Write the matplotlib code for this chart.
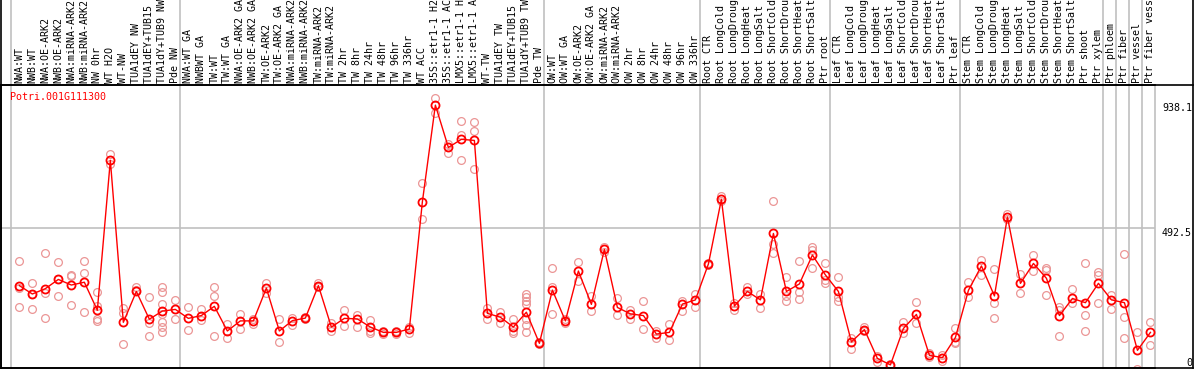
import numpy as np
import matplotlib
matplotlib.use("Agg")
import matplotlib.pyplot as plt
import matplotlib.transforms as mtransforms

# sample names, left to right
sample_names = [
    "NWA:WT", "NWB:WT", "NWA:OE-ARK2", "NWB:OE-ARK2", "NWA:miRNA-ARK2", "NWB:miRNA-ARK2",
    "NW 0hr", "WT H2O", "WT-NW", "TUA1dEY NW", "TUA1dEY+TUB15 NW", "TUA1dY+TUB9 NW", "Pde NW",
    "NWA:WT GA", "NWBWT GA", "TW:WT", "TW:WT GA", "NWA:OE-ARK2 GA", "NWB:OE-ARK2 GA",
    "TW:OE-ARK2", "TW:OE-ARK2 GA", "NWA:miRNA-ARK2 GA", "NWB:miRNA-ARK2 GA", "TW:miRNA-ARK2",
    "TW:miRNA-ARK2 GA", "TW 2hr", "TW 8hr", "TW 24hr", "TW 48hr", "TW 96hr", "TW 336hr",
    "WT ACC", "35S::etr1-1 H2O", "35S::etr1-1 ACC", "LMX5::etr1-1 H2O", "LMX5::etr1-1 ACC",
    "WT-TW", "TUA1dEY TW", "TUA1dEY+TUB15 TW", "TUA1dY+TUB9 TW", "Pde TW",
    "OW:WT", "OW:WT GA", "OW:OE-ARK2", "OW:OE-ARK2 GA", "OW:miRNA-ARK2", "OW:miRNA-ARK2 GA",
    "OW 2hr", "OW 8hr", "OW 24hr", "OW 48hr", "OW 96hr", "OW 336hr",
    "Root CTR", "Root LongCold", "Root LongDrought", "Root LongHeat", "Root LongSalt",
    "Root ShortCold", "Root ShortDrought", "Root ShortHeat", "Root ShortSalt", "Ptr root",
    "Leaf CTR", "Leaf LongCold", "Leaf LongDrought", "Leaf LongHeat", "Leaf LongSalt",
    "Leaf ShortCold", "Leaf ShortDrought", "Leaf ShortHeat", "Leaf ShortSalt", "Ptr leaf",
    "Stem CTR", "Stem LongCold", "Stem LongDrought", "Stem LongHeat", "Stem LongSalt",
    "Stem ShortCold", "Stem ShortDrought", "Stem ShortHeat", "Stem ShortSalt", "Ptr shoot",
    "Ptr xylem", "Ptr phloem", "Ptr fiber", "Ptr vessel", "Ptr fiber vessel",
]

# how many samples sit between two grey separators
group_sizes = [13, 28, 12, 10, 10, 11, 1, 1, 1, 1]

mean_expr = [
    287, 257, 276, 309, 289, 299, 199, 734, 156, 266, 167, 196, 202,
    170, 180, 213, 125, 161, 161, 278, 125, 162, 171, 287, 139, 170, 168, 139, 120,
    120, 132, 586, 931, 780, 809, 805, 188, 174, 139, 192, 81,
    271, 161, 339, 220, 416, 209, 186, 180, 114, 120, 221, 236,
    364, 595, 214, 266, 236, 473, 266, 293, 396, 325,
    266, 86, 130, 27, 4, 134, 184, 38, 30, 102,
    270, 357, 250, 532, 295, 366, 313, 180, 241, 226,
    295, 236, 226, 56, 120,
]

replicates = [
    [374, 280, 209], [296, 257, 203], [402, 259, 170], [371, 309, 249], [325, 320, 218],
    [374, 332, 193], [264, 214, 168, 161], [758, 721], [206, 190, 77], [283, 271],
    [245, 152, 106], [283, 263, 220, 184, 156, 140, 120], [236, 167],
    [209, 128], [203, 164], [281, 251, 106], [149, 99], [186, 132], [167, 149], [295, 259],
    [167, 86], [172, 146], [175, 167], [295, 281], [155, 126], [200, 144], [182, 140],
    [164, 126, 119], [126, 115], [126, 113], [138, 119], [652, 523], [955, 904], [792, 761],
    [873, 824, 734], [870, 840, 702], [206, 169], [194, 155], [167, 126, 117],
    [257, 245, 233, 221, 169, 146, 123], [84, 78],
    [349, 283, 186], [167, 152], [370, 303], [251, 195], [426, 408], [242, 181], [200, 169],
    [232, 131], [126, 99], [149, 92], [233, 197], [257, 212],
    [369, 360], [607, 590], [226, 200], [281, 257], [257, 208], [588, 434, 402],
    [316, 251, 231], [374, 263, 240], [426, 414, 349], [367, 307, 295],
    [318, 245, 233], [99, 59], [138, 124], [36, 15], [8, 0], [156, 119], [228, 152],
    [45, 31], [39, 19], [134, 87, 81],
    [299, 247], [378, 325], [345, 226, 170], [543, 523], [328, 259], [396, 339],
    [349, 343, 253], [212, 200, 108], [274, 224], [366, 181, 125],
    [337, 325, 224], [253, 202], [399, 176, 99], [122, -12], [156, 74],
]

gene_name = "Potri.001G111300"
y_ticks = [0, 492.5, 938.1]

W, H = 1194, 370
fig = plt.figure(figsize=(W / 100, H / 100), dpi=100)
plt.rcParams['font.family'] = 'DejaVu Sans Mono'
fs = 7.2

# plot area in pixels: x 1..1155, y 85..368 (from top)
ax = fig.add_axes([1 / W, (H - 368) / H, 1154 / W, 283 / H])
x = np.arange(len(mean_expr))
ax.set_xlim(-1.41, 87.35)
ax.set_ylim(-7.1, 1002.8)
ax.set_xticks([])
ax.set_yticks([])
for s in ['left', 'bottom', 'top']:
    ax.spines[s].set_color('black')
    ax.spines[s].set_linewidth(1.2)
ax.spines['right'].set_color('#c0c0c0')
ax.spines['right'].set_linewidth(1.2)

# grey separators between groups
ends = np.cumsum(group_sizes) - 1
for b in np.concatenate([[-1], ends[:-1]]):
    ax.axvline(b + 0.36, ymin=0, ymax=368 / 283, color='#c0c0c0', lw=1.2,
               clip_on=False, zorder=0)
ax.axhline(492.5, color='#c0c0c0', lw=1.2, zorder=0)

# replicates
for i, reps in enumerate(replicates):
    ax.plot([i] * len(reps), reps, 'o', ms=5.6, mfc='none', mec='#eb9696', mew=0.9,
            zorder=2, clip_on=True)

ax.plot(x, mean_expr, '-', color='red', lw=1.0, zorder=3)
ax.plot(x, mean_expr, 'o', ms=5.8, mfc='none', mec='red', mew=1.3, zorder=4)

# sample labels on top
lab_tr = mtransforms.blended_transform_factory(ax.transData, fig.transFigure)
for i, name in enumerate(sample_names):
    ax.text(i, (H - 83) / H, name, transform=lab_tr, rotation=90, ha='center',
            va='bottom', fontsize=fs, color='black', clip_on=False)

fig.text(10 / W, (H - 97) / H, gene_name, color='red', fontsize=fs, va='center', ha='left')

# value labels on the right
tick_tr = mtransforms.blended_transform_factory(fig.transFigure, ax.transData)
for v in y_ticks:
    ax.text(1192 / W, v, ('%g' % v), transform=tick_tr, ha='right',
            va='baseline' if v == 0 else 'top', fontsize=fs, clip_on=False)

# outer frame
def fline(x0, y0, x1, y1, c='black'):
    fig.add_artist(plt.Line2D([x0 / W, x1 / W], [(H - y0) / H, (H - y1) / H],
                              color=c, lw=1.2))

fline(1, 0, 1, 368)
fline(1, 85, 1193, 85)
fline(1193, 0, 1193, 368)
fline(1, 368, 1193, 368)

fig.savefig("out.png", dpi=100)
